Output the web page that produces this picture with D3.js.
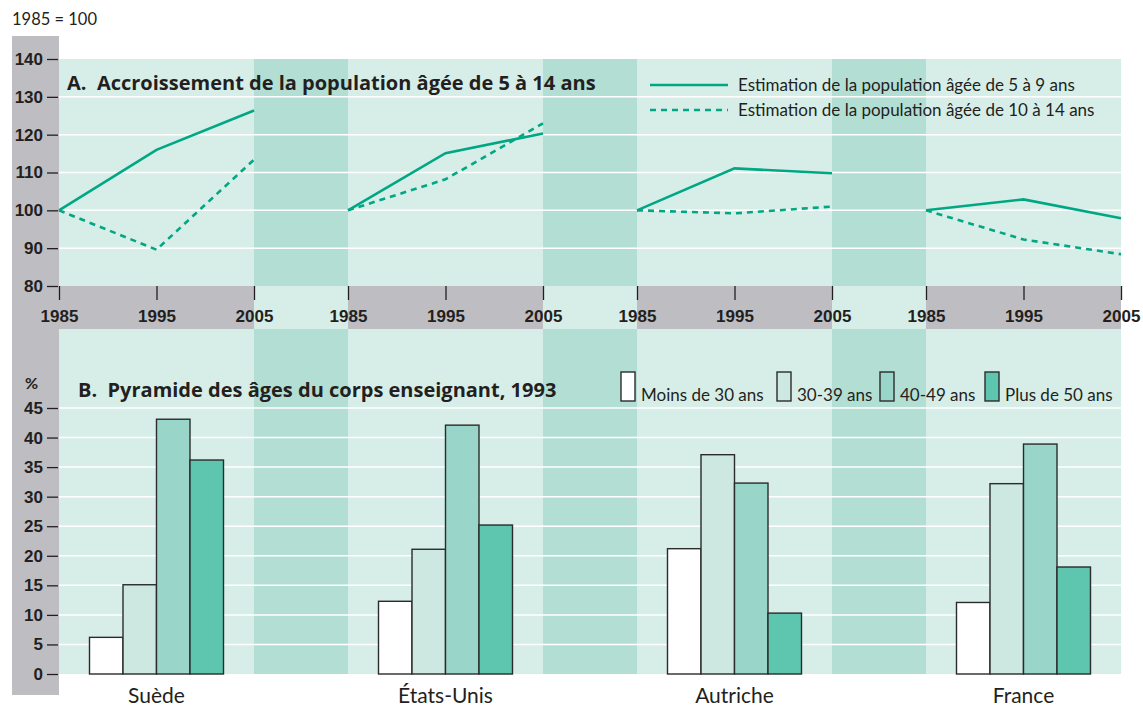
<!DOCTYPE html>
<html>
<head>
<meta charset="utf-8">
<script src="https://cdn.jsdelivr.net/npm/d3@7.9.0/dist/d3.min.js"></script>
<style>
  body { margin: 0; background: #fff; }
  svg { display: block; font-family: Lato, 'DejaVu Sans', sans-serif; }
  .axis text { font-weight: bold; font-size: 17px; fill: #231f20; }
  .axis line { stroke: #231f20; stroke-width: 1.3; }
  .axis path { display: none; }
  .title { font-family: 'Open Sans', Lato, sans-serif; font-weight: bold; font-size: 20px; fill: #231f20; white-space: pre; }
</style>
</head>
<body>
<div id="chart"></div>
<script>
const countries = ['Suède', 'États-Unis', 'Autriche', 'France'];
const years = [1985, 1995, 2005];

// Indice 1985 = 100
const pop5to9 = [
  [100, 116, 126.4],
  [100, 115.1, 120.3],
  [100, 111.1, 109.8],
  [100, 102.9, 97.9],
];
const pop10to14 = [
  [100, 89.6, 113.4],
  [100, 108.2, 123],
  [100, 99.2, 101],
  [100, 92.3, 88.4],
];

const ageGroups = ['Moins de 30 ans', '30-39 ans', '40-49 ans', 'Plus de 50 ans'];
// % du corps enseignant, 1993
const teacherShares = [
  [6.2, 15.1, 43.1, 36.2],
  [12.3, 21.1, 42.1, 25.2],
  [21.2, 37.1, 32.3, 10.3],
  [12.1, 32.2, 38.9, 18.1],
];

const width = 1143;
const height = 706;

const colors = {
  light: '#d7eee8',
  dark: '#b3ded4',
  gray: '#bebec2',
  line: '#00a784',
  ink: '#231f20',
};
const barColors = ['#ffffff', '#cde8e1', '#99d5c9', '#5ec5ae'];

const svg = d3.select('#chart').append('svg')
  .attr('width', width)
  .attr('height', height);

const x = d3.scaleBand()
  .domain(countries)
  .range([59, 1121])
  .paddingInner(94 / 289)
  .paddingOuter(0);

const yA = d3.scaleLinear().domain([80, 140]).range([286, 59]);
const yB = d3.scaleLinear().domain([0, 45]).range([674, 408]);

const areaA = { y0: 59, y1: 286 };
const areaBand = { y0: 286, y1: 329 };
const areaB = { y0: 329, y1: 674 };

// gray left column
svg.append('rect')
  .attr('x', 12).attr('y', 36)
  .attr('width', 47).attr('height', 695 - 36)
  .attr('fill', colors.gray);

// backgrounds
const bg = svg.append('g');
[areaA, areaBand, areaB].forEach((p) => {
  bg.append('rect')
    .attr('x', x.range()[0]).attr('y', p.y0)
    .attr('width', x.range()[1] - x.range()[0])
    .attr('height', p.y1 - p.y0)
    .attr('fill', colors.light);
});

const gap = x.step() - x.bandwidth();
countries.forEach((c, i) => {
  bg.append('rect')
    .attr('x', x(c)).attr('y', areaBand.y0)
    .attr('width', x.bandwidth()).attr('height', areaBand.y1 - areaBand.y0)
    .attr('fill', colors.gray);
  if (i < countries.length - 1) {
    [areaA, areaB].forEach((p) => {
      bg.append('rect')
        .attr('x', x(c) + x.bandwidth()).attr('y', p.y0)
        .attr('width', gap).attr('height', p.y1 - p.y0)
        .attr('fill', colors.dark);
    });
  }
});

// gridlines
svg.append('g')
  .selectAll('line')
  .data(d3.range(90, 140, 10))
  .join('line')
  .attr('x1', x.range()[0]).attr('x2', x.range()[1])
  .attr('y1', (d) => yA(d)).attr('y2', (d) => yA(d))
  .attr('stroke', '#fff').attr('stroke-width', 1.5);

svg.append('g')
  .selectAll('line')
  .data(d3.range(5, 50, 5))
  .join('line')
  .attr('x1', x.range()[0]).attr('x2', x.range()[1])
  .attr('y1', (d) => yB(d)).attr('y2', (d) => yB(d))
  .attr('stroke', '#fff').attr('stroke-width', 1.5);

// y axes
svg.append('g')
  .attr('class', 'axis')
  .attr('transform', `translate(${x.range()[0] - 1},0)`)
  .call(d3.axisLeft(yA).tickValues(d3.range(80, 141, 10)).tickSize(11).tickPadding(4));

svg.append('g')
  .attr('class', 'axis')
  .attr('transform', `translate(${x.range()[0] - 1},0)`)
  .call(d3.axisLeft(yB).tickValues(d3.range(0, 46, 5)).tickSize(11).tickPadding(4));

// panel A: lines
const lineGen = d3.line();
countries.forEach((c, i) => {
  const xYear = d3.scaleLinear()
    .domain([1985, 2005])
    .range([x(c), x(c) + x.bandwidth()]);

  svg.append('g')
    .attr('class', 'axis')
    .attr('transform', `translate(0,${areaBand.y0})`)
    .call(d3.axisBottom(xYear).tickValues(years).tickFormat(d3.format('d'))
      .tickSize(14).tickPadding(10));

  svg.append('path')
    .attr('d', lineGen(years.map((yr, j) => [xYear(yr), yA(pop5to9[i][j])])))
    .attr('fill', 'none')
    .attr('stroke', colors.line)
    .attr('stroke-width', 2.6);

  svg.append('path')
    .attr('d', lineGen(years.map((yr, j) => [xYear(yr), yA(pop10to14[i][j])])))
    .attr('fill', 'none')
    .attr('stroke', colors.line)
    .attr('stroke-width', 2.6)
    .attr('stroke-dasharray', '6,5');
});

// panel B: bars
const xInner = d3.scaleBand().domain(ageGroups).range([-67, 67]).padding(0);
countries.forEach((c, i) => {
  const cx = x(c) + x.bandwidth() / 2;
  svg.append('g')
    .selectAll('rect')
    .data(teacherShares[i])
    .join('rect')
    .attr('x', (d, j) => cx + xInner(ageGroups[j]))
    .attr('y', (d) => yB(d))
    .attr('width', xInner.bandwidth())
    .attr('height', (d) => yB(0) - yB(d))
    .attr('fill', (d, j) => barColors[j])
    .attr('stroke', '#2b2b2b')
    .attr('stroke-width', 1.4);

  svg.append('text')
    .attr('x', cx).attr('y', 703)
    .attr('text-anchor', 'middle')
    .attr('font-size', 21)
    .attr('fill', colors.ink)
    .text(c);
});

// texts
svg.append('text')
  .attr('x', 12).attr('y', 25)
  .attr('font-size', 16.5).attr('fill', colors.ink)
  .text('1985 = 100');

svg.append('text')
  .attr('class', 'title')
  .attr('x', 67).attr('y', 90)
  .text('A.  Accroissement de la population âgée de 5 à 14 ans');

svg.append('text')
  .attr('x', 25).attr('y', 389)
  .attr('font-size', 16).attr('font-weight', 'bold').attr('fill', colors.ink)
  .text('%');

svg.append('text')
  .attr('class', 'title')
  .attr('x', 78).attr('y', 397)
  .text('B.  Pyramide des âges du corps enseignant, 1993');

// legend A
const legendA = [
  { label: 'Estimation de la population âgée de 5 à 9 ans', dash: null, y: 85 },
  { label: 'Estimation de la population âgée de 10 à 14 ans', dash: '6,5', y: 110 },
];
legendA.forEach((d) => {
  svg.append('line')
    .attr('x1', 650).attr('x2', 728)
    .attr('y1', d.y).attr('y2', d.y)
    .attr('stroke', colors.line).attr('stroke-width', 2.6)
    .attr('stroke-dasharray', d.dash);
  svg.append('text')
    .attr('x', 738).attr('y', d.y + 6)
    .attr('font-size', 17).attr('fill', colors.ink)
    .text(d.label);
});

// legend B
const legendX = [621, 777, 880, 985];
ageGroups.forEach((g, j) => {
  svg.append('rect')
    .attr('x', legendX[j]).attr('y', 372)
    .attr('width', 14).attr('height', 29)
    .attr('fill', barColors[j])
    .attr('stroke', '#2b2b2b').attr('stroke-width', 1.4);
  svg.append('text')
    .attr('x', legendX[j] + 20).attr('y', 401)
    .attr('font-size', 17).attr('fill', colors.ink)
    .text(g);
});
</script>
</body>
</html>
